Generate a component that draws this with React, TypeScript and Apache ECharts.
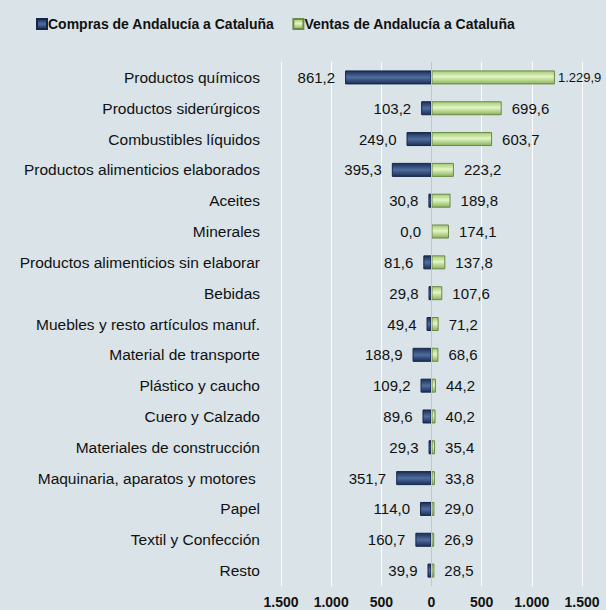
import React, { useEffect, useRef } from "react";
import * as echarts from "echarts";

const categories = [
  "Productos químicos",
  "Productos siderúrgicos",
  "Combustibles líquidos",
  "Productos alimenticios elaborados",
  "Aceites",
  "Minerales",
  "Productos alimenticios sin elaborar",
  "Bebidas",
  "Muebles y resto artículos manuf.",
  "Material de transporte",
  "Plástico y caucho",
  "Cuero y Calzado",
  "Materiales de construcción",
  "Maquinaria, aparatos y motores ",
  "Papel",
  "Textil y Confección",
  "Resto",
];
const compras = [861.2, 103.2, 249.0, 395.3, 30.8, 0.0, 81.6, 29.8, 49.4, 188.9, 109.2, 89.6, 29.3, 351.7, 114.0, 160.7, 39.9];
const ventas = [1229.9, 699.6, 603.7, 223.2, 189.8, 174.1, 137.8, 107.6, 71.2, 68.6, 44.2, 40.2, 35.4, 33.8, 29.0, 26.9, 28.5];
const axisTicks = [-1500, -1000, -500, 0, 500, 1000, 1500];

const fmt = (v: number, dec: number) => {
  const a = Math.abs(v).toFixed(dec);
  const [i, d] = a.split(".");
  const ii = i.replace(/\B(?=(\d{3})+(?!\d))/g, ".");
  return d ? ii + "," + d : ii;
};

const navyGrad = new echarts.graphic.LinearGradient(0, 0, 0, 1, [
  { offset: 0, color: "#1b2f57" },
  { offset: 0.5, color: "#4f6d9e" },
  { offset: 1, color: "#1b2f57" },
]);
const greenGrad = new echarts.graphic.LinearGradient(0, 0, 0, 1, [
  { offset: 0, color: "#a3c975" },
  { offset: 0.45, color: "#e2f6c4" },
  { offset: 1, color: "#8cb25c" },
]);

export default function App() {
  const ref = useRef<HTMLDivElement>(null);
  useEffect(() => {
    document.body.style.margin = "0";
    const chart = echarts.init(ref.current!, undefined, { renderer: "svg" });
    const font = "Arial, 'Liberation Sans', sans-serif";
    chart.setOption({
      animation: false,
      backgroundColor: "#d9e3e8",
      textStyle: { fontFamily: font },
      legend: {
        top: 12,
        left: 31,
        itemWidth: 10,
        itemHeight: 10,
        itemGap: 18,
        icon: "rect",
        textStyle: { fontSize: 14, fontWeight: "bold", color: "#111", padding: [0, 0, 0, -4] },
        data: ["Compras de Andalucía a Cataluña", "Ventas de Andalucía a Cataluña"],
      },
      grid: { left: 281, right: 24, top: 62, bottom: 24 },
      xAxis: {
        type: "value",
        min: axisTicks[0],
        max: axisTicks[axisTicks.length - 1],
        interval: 500,
        axisLine: { show: false },
        axisTick: { show: false },
        splitLine: { show: true, lineStyle: { color: "#ffffff", width: 1 } },
        axisLabel: {
          margin: 9,
          fontSize: 14,
          fontWeight: "bold",
          color: "#111",
          formatter: (v: number) => fmt(v, 0),
        },
      },
      yAxis: {
        type: "category",
        inverse: true,
        data: categories,
        axisLine: { show: false },
        axisTick: { show: false },
        axisLabel: { margin: 21, fontSize: 15.5, color: "#111" },
      },
      series: [
        {
          name: "Compras de Andalucía a Cataluña",
          type: "bar",
          barWidth: 14,
          barGap: "-100%",
          data: compras.map((v) => -v),
          itemStyle: { color: navyGrad, borderColor: "#15254a", borderWidth: 1 },
          label: {
            show: true,
            position: "left",
            distance: 10,
            fontSize: 15,
            color: "#111",
            formatter: (p: any) => fmt(p.value, 1),
          },
          markLine: {
            silent: true,
            symbol: "none",
            label: { show: false },
            lineStyle: { color: "#cbc3c3", width: 1, type: "solid" },
            data: [{ xAxis: 0 }],
          },
        },
        {
          name: "Ventas de Andalucía a Cataluña",
          type: "bar",
          barWidth: 14,
          data: ventas.map((v) =>
            v >= 1000 ? { value: v, label: { fontSize: 13, distance: 3 } } : v
          ),
          itemStyle: { color: greenGrad, borderColor: "#6a8a46", borderWidth: 1 },
          label: {
            show: true,
            position: "right",
            distance: 10,
            fontSize: 15,
            color: "#111",
            formatter: (p: any) => fmt(p.value, 1),
          },
        },
      ],
    });
    return () => chart.dispose();
  }, []);
  return (
    <div
      ref={ref}
      style={{ position: "fixed", left: 0, top: 0, width: 606, height: 610 }}
    />
  );
}
